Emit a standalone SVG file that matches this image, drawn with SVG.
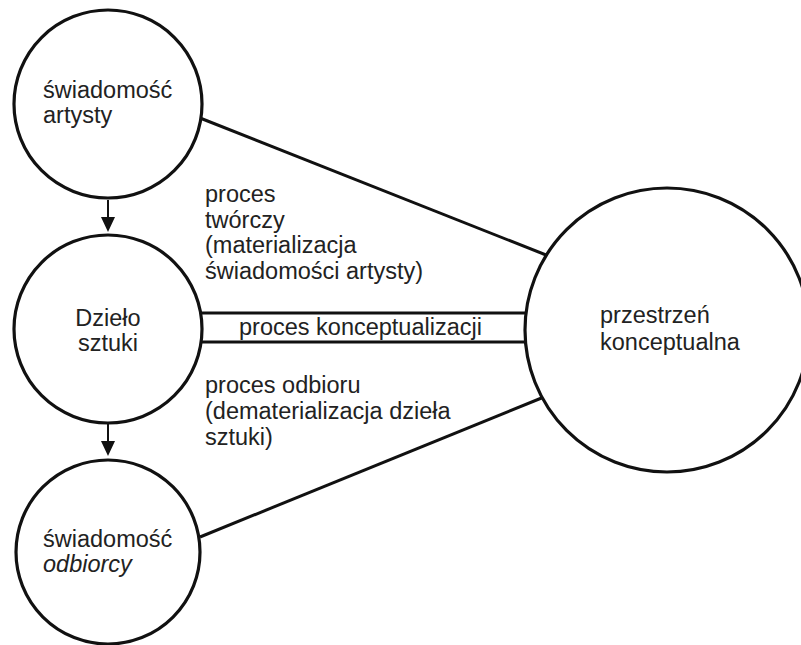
<svg xmlns="http://www.w3.org/2000/svg" width="801" height="645" viewBox="0 0 801 645">
<style>
.node{fill:#fff;stroke:#111;stroke-width:3.2}
.conn{stroke:#111;stroke-width:3;fill:none}
.t{font-family:"Liberation Sans",Arial,sans-serif;font-size:23.5px;fill:#222}
</style>
<rect width="801" height="645" fill="#fff"/>
<g id="connectors">
<line class="conn" x1="200" y1="118" x2="546" y2="255"/>
<line class="conn" x1="200" y1="537" x2="544" y2="397"/>
<line class="conn" x1="200" y1="313" x2="527" y2="313"/>
<line class="conn" x1="200" y1="342" x2="527" y2="342"/>
<line x1="108" y1="200" x2="108" y2="217" stroke="#111" stroke-width="2"/>
<path d="M101,217 L115,217 L108,232 Z" fill="#111"/>
<line x1="108" y1="423" x2="108" y2="441" stroke="#111" stroke-width="2"/>
<path d="M101,441 L115,441 L108,456 Z" fill="#111"/>
<text class="t" x="205" y="202">proces</text>
<text class="t" x="205" y="228">twórczy</text>
<text class="t" x="205" y="253">(materializacja</text>
<text class="t" x="205" y="279">świadomości artysty)</text>
<text class="t" x="239" y="335">proces konceptualizacji</text>
<text class="t" x="205" y="393">proces odbioru</text>
<text class="t" x="205" y="419">(dematerializacja dzieła</text>
<text class="t" x="205" y="445">sztuki)</text>
</g>
<g id="swiadomosc-artysty">
<circle class="node" cx="108" cy="104" r="94"/>
<text class="t" x="43" y="98">świadomość</text>
<text class="t" x="43" y="123">artysty</text>
</g>
<g id="dzielo-sztuki">
<circle class="node" cx="108" cy="329" r="94"/>
<text class="t" x="108" y="326" text-anchor="middle">Dzieło</text>
<text class="t" x="108" y="351" text-anchor="middle">sztuki</text>
</g>
<g id="swiadomosc-odbiorcy">
<circle class="node" cx="108" cy="552" r="92"/>
<text class="t" x="43" y="547">świadomość</text>
<text class="t" x="43" y="572" font-style="italic">odbiorcy</text>
</g>
<g id="przestrzen-konceptualna">
<circle class="node" cx="667" cy="330" r="142"/>
<text class="t" x="600" y="323">przestrzeń</text>
<text class="t" x="600" y="350">konceptualna</text>
</g>
</svg>
